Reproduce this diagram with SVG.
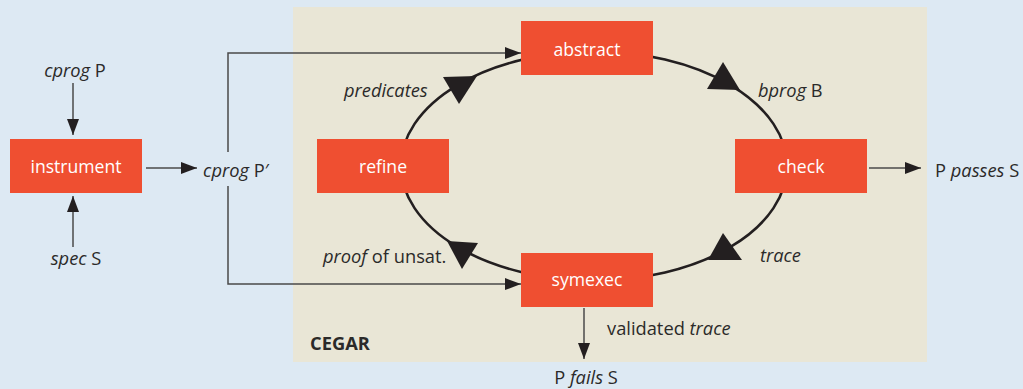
<svg xmlns="http://www.w3.org/2000/svg" width="1023" height="389" viewBox="0 0 1023 389">
<defs>
<style>
.bg{fill:#dde9f3}
.panel{fill:#e9e6d6}
.box{fill:#ef4f31}
.boxt{font-family:"Open Sans","Liberation Sans",sans-serif;font-size:17.6px;fill:#ffffff;text-anchor:middle}
.lbl{font-family:"Open Sans","Liberation Sans",sans-serif;font-size:18.3px;fill:#2b2a29}
.it{font-style:italic}
.thin{fill:none;stroke:#4a4a4a;stroke-width:1.5}
.loop{fill:none;stroke:#231f20;stroke-width:2.6}
.tri{fill:#231f20}
</style>
<marker id="ah" viewBox="0 0 16 12" refX="16" refY="6" markerWidth="16" markerHeight="12" markerUnits="userSpaceOnUse" orient="auto">
<path d="M0,0 L16,6 L0,12 z" fill="#231f20"/>
</marker>
</defs>
<rect class="bg" x="0" y="0" width="1023" height="389"/>
<rect class="panel" x="293" y="7" width="634" height="355"/>
<g id="connectors">
<ellipse class="loop" cx="594" cy="166" rx="193" ry="114.5"/>
<polygon class="tri" points="443,77 477,76 459,104"/>
<polygon class="tri" points="723,62 740,90 707,89"/>
<polygon class="tri" points="742,260 708,260 723,233"/>
<polygon class="tri" points="462,269 447,241 478,243"/>
<line class="thin" x1="73" y1="83" x2="73" y2="135" marker-end="url(#ah)"/>
<line class="thin" x1="73" y1="247" x2="73" y2="196" marker-end="url(#ah)"/>
<line class="thin" x1="146" y1="168" x2="197" y2="168" marker-end="url(#ah)"/>
<polyline class="thin" points="228,152 228,53 521,53" marker-end="url(#ah)"/>
<polyline class="thin" points="228,186 228,284 521,284" marker-end="url(#ah)"/>
<line class="thin" x1="869" y1="168" x2="921" y2="168" marker-end="url(#ah)"/>
<line class="thin" x1="584" y1="308" x2="584" y2="359" marker-end="url(#ah)"/>
</g>
<g id="instrument"><rect class="box" x="10" y="139" width="132" height="54"/><text class="boxt" x="76" y="173">instrument</text></g>
<g id="abstract"><rect class="box" x="521" y="21" width="132" height="54"/><text class="boxt" x="587" y="56">abstract</text></g>
<g id="refine"><rect class="box" x="317" y="139" width="132" height="54"/><text class="boxt" x="383" y="173">refine</text></g>
<g id="check"><rect class="box" x="735" y="139" width="132" height="54"/><text class="boxt" x="801" y="173">check</text></g>
<g id="symexec"><rect class="box" x="521" y="253" width="132" height="54"/><text class="boxt" x="587" y="286">symexec</text></g>
<g id="labels">
<text class="lbl" x="75" y="77" text-anchor="middle"><tspan class="it">cprog</tspan> P</text>
<text class="lbl" x="76" y="265" text-anchor="middle"><tspan class="it">spec</tspan> S</text>
<text class="lbl" x="236" y="177" text-anchor="middle"><tspan class="it">cprog</tspan> P′</text>
<text class="lbl it" x="344" y="97">predicates</text>
<text class="lbl" x="758" y="97"><tspan class="it">bprog</tspan> B</text>
<text class="lbl" x="935" y="177">P <tspan class="it">passes</tspan> S</text>
<text class="lbl it" x="760" y="262">trace</text>
<text class="lbl" x="323" y="263"><tspan class="it">proof</tspan> of unsat.</text>
<text class="lbl" x="607" y="335">validated <tspan class="it">trace</tspan></text>
<text class="lbl" x="310" y="350" font-weight="bold" font-size="17">CEGAR</text>
<text class="lbl" x="586" y="384" text-anchor="middle">P <tspan class="it">fails</tspan> S</text>
</g>
</svg>
